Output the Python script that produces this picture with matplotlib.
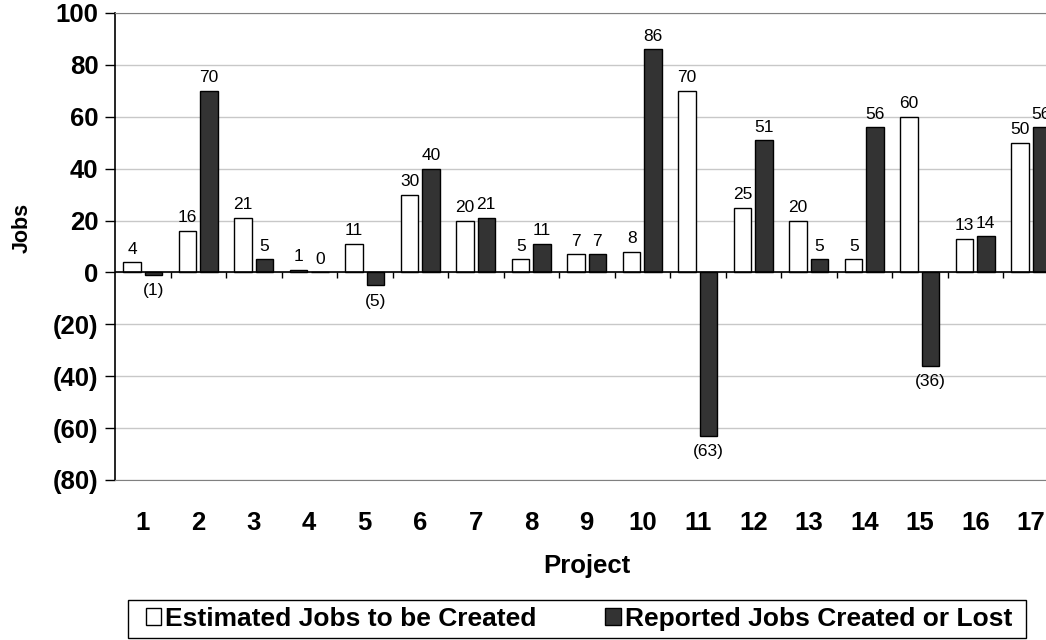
import matplotlib
matplotlib.use("Agg")
import matplotlib.pyplot as plt
from matplotlib.patches import Patch, Rectangle
import numpy as np

plt.rcParams['font.family'] = ['Liberation Sans', 'DejaVu Sans']

projects = [str(i) for i in range(1, 18)]
estimated = [4, 16, 21, 1, 11, 30, 20, 5, 7, 8, 70, 25, 20, 5, 60, 13, 50]
reported = [-1, 70, 5, 0, -5, 40, 21, 11, 7, 86, -63, 51, 5, 56, -36, 14, 56]
y_ticks = [100, 80, 60, 40, 20, 0, -20, -40, -60, -80]
series_names = ["Estimated Jobs to be Created", "Reported Jobs Created or Lost"]


def fmt(v):
    return f"({abs(v)})" if v < 0 else f"{v}"


W, H = 1046, 640
fig = plt.figure(figsize=(W / 100, H / 100), dpi=100)
ax = fig.add_axes([115 / W, 1 - 480 / H, 943.5 / W, 467 / H])

x = np.arange(len(projects))
w = 0.315
off = 0.19
light = "#ffffff"
dark = "#333333"

b1 = ax.bar(x - off, estimated, w, color=light, edgecolor="black", linewidth=1.0, zorder=3)
b2 = ax.bar(x + off, reported, w, color=dark, edgecolor="black", linewidth=1.0, zorder=3)

for bars, vals in ((b1, estimated), (b2, reported)):
    for rect, v in zip(bars, vals):
        cx = rect.get_x() + rect.get_width() / 2
        if v >= 0:
            ax.annotate(fmt(v), (cx, v), xytext=(0, 4), textcoords="offset points",
                        ha="center", va="bottom", fontsize=12.5)
        else:
            ax.annotate(fmt(v), (cx, v), xytext=(0, -6), textcoords="offset points",
                        ha="center", va="top", fontsize=12.5)

ax.set_xlim(-0.5, len(projects) - 0.5)
ax.set_ylim(-80, 100)
ax.set_yticks(y_ticks)
ax.set_yticklabels([fmt(v) for v in y_ticks], fontsize=18.5, fontweight="bold")
ax.yaxis.grid(True, color="#c8c8c8", linewidth=1.0, zorder=0)
ax.set_axisbelow(True)

ax.set_xticks(x)
ax.set_xticklabels(projects, fontsize=18.5, fontweight="bold")
ax.tick_params(axis="x", length=0, pad=22)
ax.tick_params(axis="y", length=7, width=1.0, pad=5, colors="black")

# zero line with category-boundary ticks
ax.axhline(0, color="black", linewidth=1.2, zorder=4)
bounds = np.arange(len(projects) + 1) - 0.5
ax.vlines(bounds[1:-1], -2.2, 0, color="black", linewidth=1.0, zorder=4)

ax.spines["left"].set_color("black")
ax.spines["left"].set_linewidth(1.2)
ax.spines["right"].set_visible(False)
ax.spines["top"].set_color("#808080")
ax.spines["bottom"].set_color("#808080")

ax.set_ylabel("Jobs", fontsize=15.5, fontweight="bold")
ax.yaxis.set_label_coords(-0.087, 0.54)
ax.set_xlabel("Project", fontsize=18.5, fontweight="bold", labelpad=14)

# legend entries, with a plain rectangular frame drawn around them
handles = [Patch(facecolor=light, edgecolor="black", linewidth=1.0),
           Patch(facecolor=dark, edgecolor="black", linewidth=1.0)]
fig.legend(handles, series_names, loc="center",
           bbox_to_anchor=(579 / W, 1 - 619 / H),
           ncol=2, frameon=False,
           prop={"size": 19, "weight": "bold"}, handlelength=0.6, handleheight=0.6,
           handletextpad=0.15, columnspacing=2.6, borderpad=0, borderaxespad=0)
fig.patches.append(Rectangle((128 / W, 1 - 638 / H), 898 / W, 38 / H,
                             transform=fig.transFigure, fill=False,
                             edgecolor="black", linewidth=1.0))

fig.savefig("out.png", dpi=100)
